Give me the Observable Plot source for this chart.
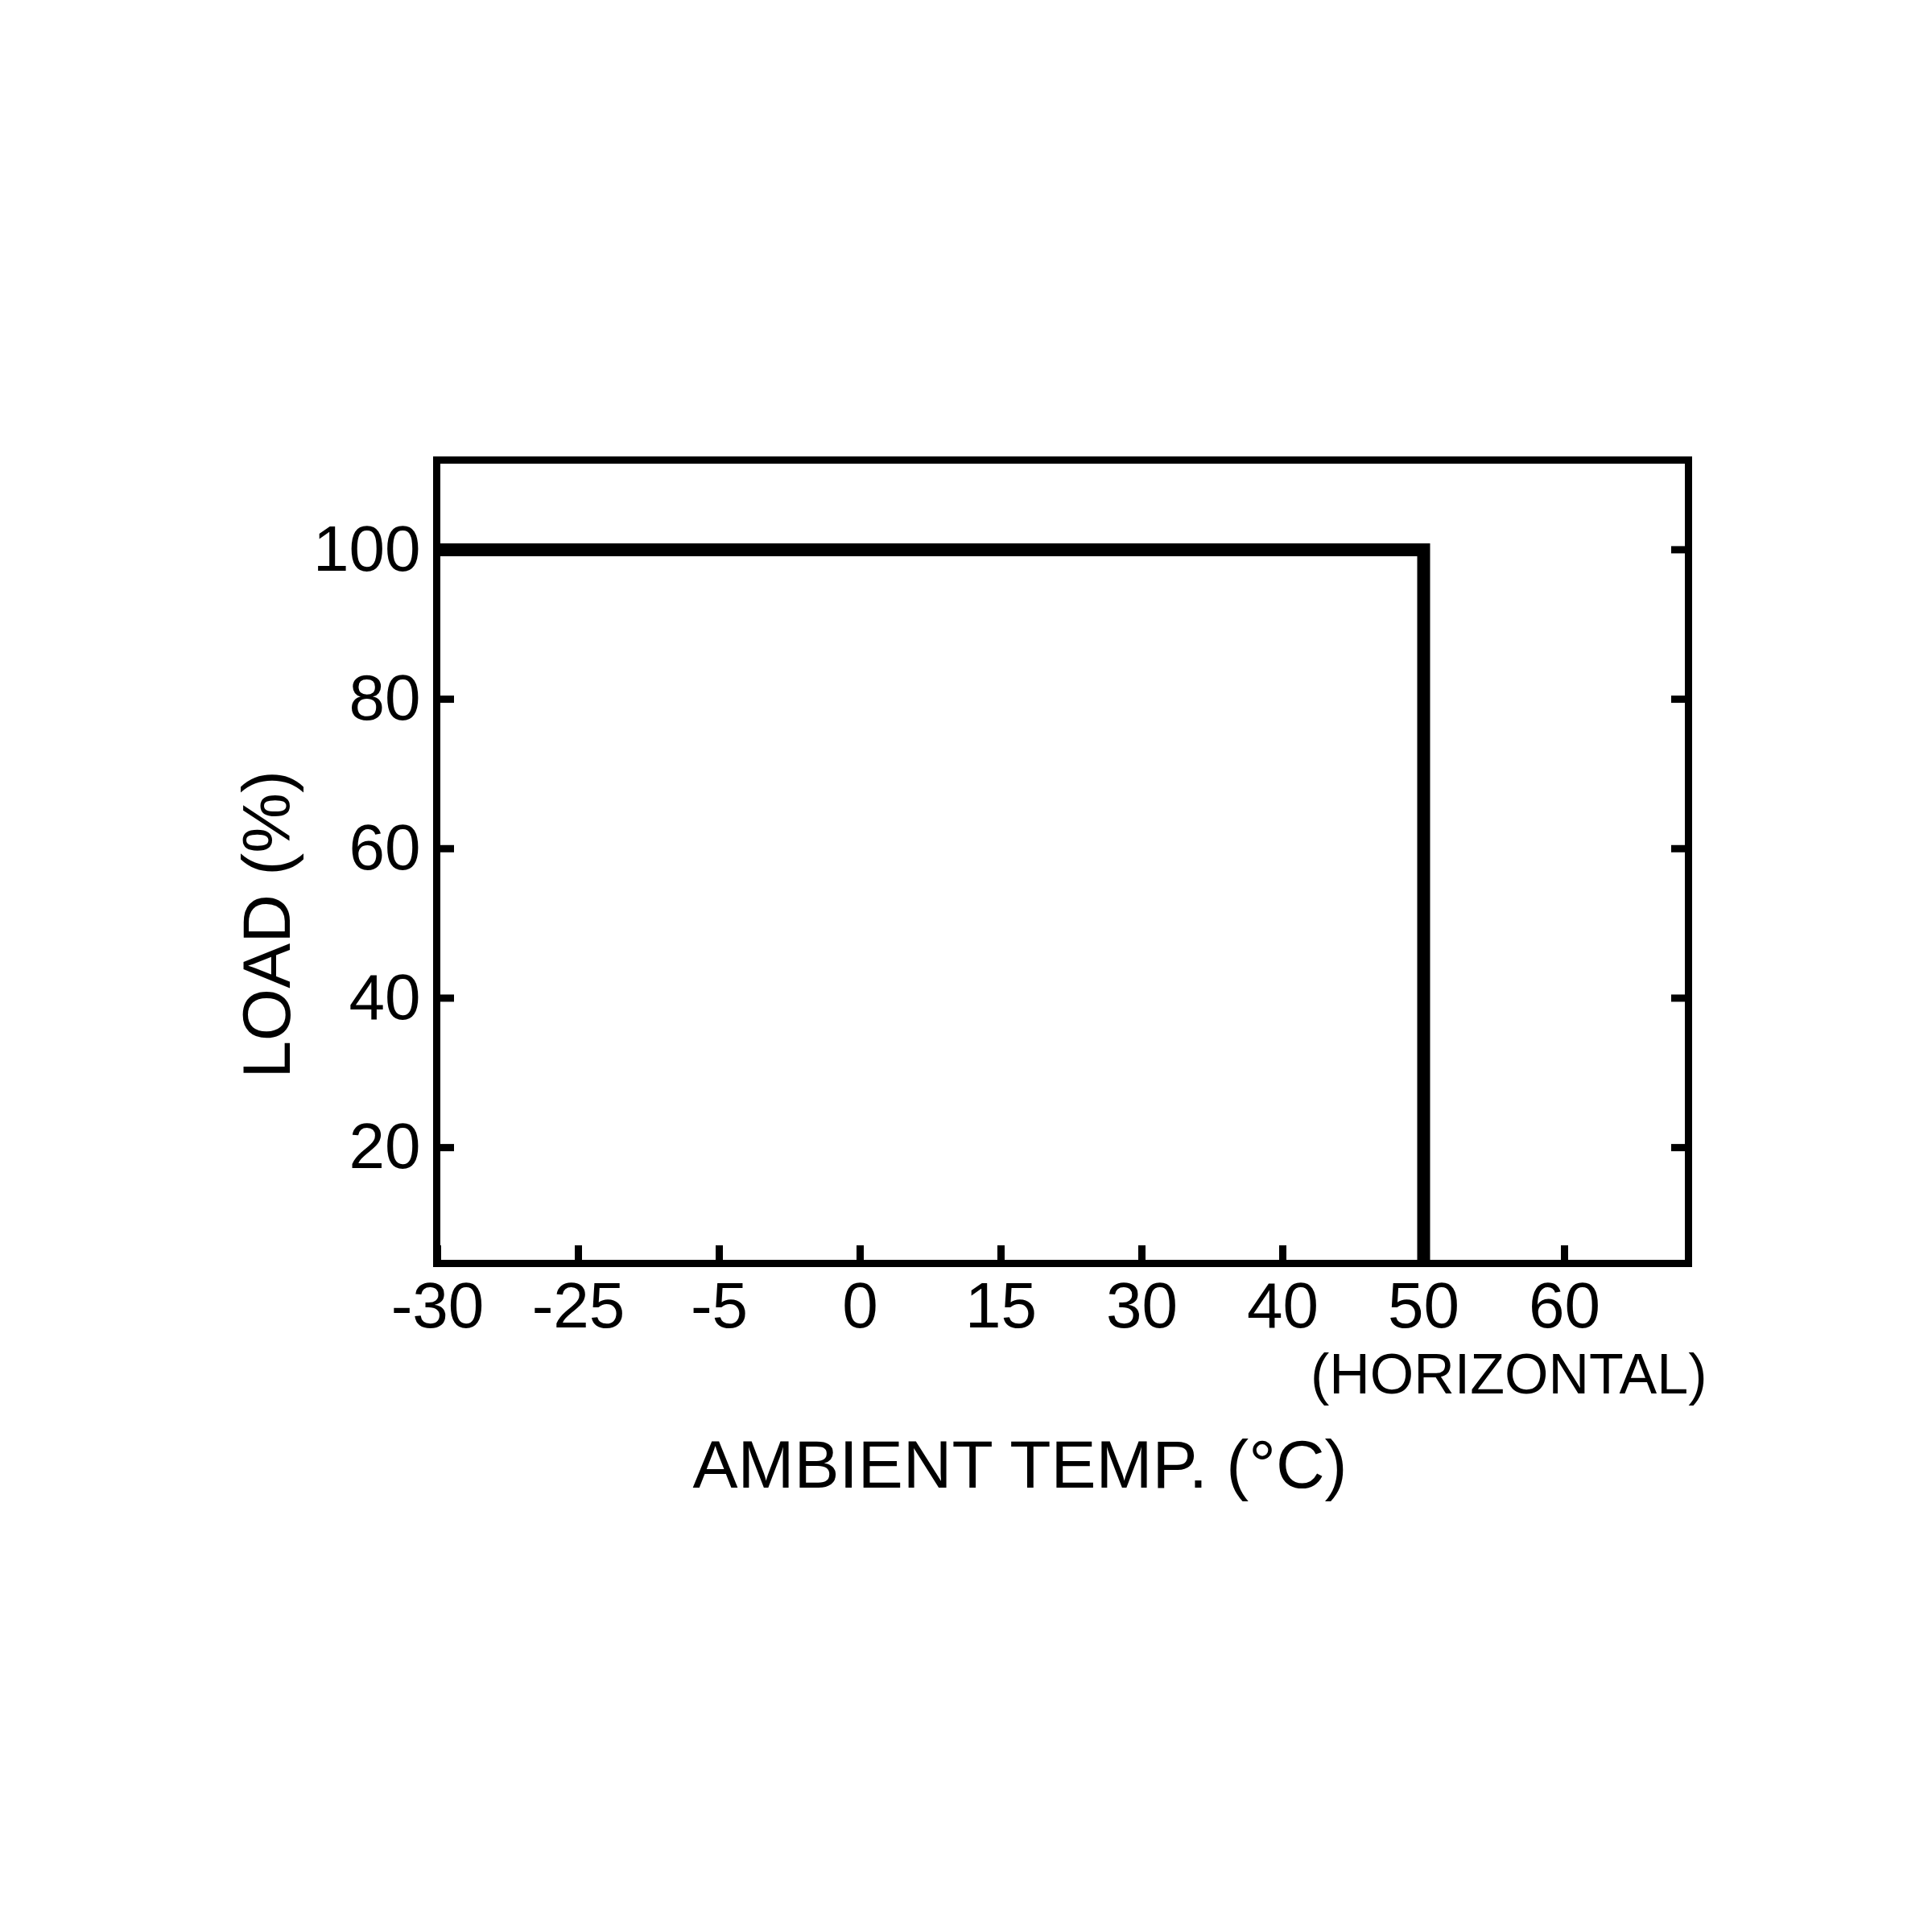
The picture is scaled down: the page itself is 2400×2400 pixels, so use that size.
<!DOCTYPE html>
<html>
<head>
<meta charset="utf-8">
<script src="https://cdn.jsdelivr.net/npm/d3@7"></script>
<script src="https://cdn.jsdelivr.net/npm/@observablehq/plot@0.6"></script>
<style>
  html, body { margin: 0; padding: 0; background: #fff; overflow: hidden; }
</style>
</head>
<body>
<div id="chart"></div>
<script>
// ---- data ----
const xTicks = [-30, -25, -5, 0, 15, 30, 40, 50, 60];   // ambient temp tick labels (°C)
const yTicks = [20, 40, 60, 80, 100];                   // load tick labels (%)
const curveTemp = [-30, 50, 50];                        // derating curve: temperature
const curveLoad = [100, 100, 0];                        // derating curve: load (%)
const xTitle = "AMBIENT TEMP. (°C)";
const xSubTitle = "(HORIZONTAL)";
const yTitle = "LOAD (%)";

const curve = curveTemp.map((t, i) => ({temp: t, load: curveLoad[i]}));
const font = "'Liberation Sans', Arial, Helvetica, sans-serif";

const chart = Plot.plot({
  width: 2400,
  height: 2400,
  marginLeft: 542,
  marginRight: 303,
  marginTop: 571,
  marginBottom: 831,
  style: {fontFamily: font, background: "#fff", color: "#000"},
  x: {type: "point", domain: xTicks, range: [542, 1944], padding: 0},
  y: {domain: [4.5, 112]},
  marks: [
    Plot.line(curve, {x: "temp", y: "load", stroke: "#000", strokeWidth: 16,
      strokeLinejoin: "miter", strokeMiterlimit: 4, strokeLinecap: "butt", clip: true}),
    Plot.frame({stroke: "#000", strokeWidth: 9}),
    // inward ticks
    Plot.axisX(xTicks, {anchor: "bottom", tickSize: 22, dy: -22, strokeWidth: 9,
      tickFormat: () => "", label: null}),
    Plot.axisY(yTicks, {anchor: "left", tickSize: 22, dx: 22, strokeWidth: 9,
      tickFormat: () => "", label: null}),
    Plot.axisY(yTicks, {anchor: "right", tickSize: 22, dx: -22, strokeWidth: 9,
      tickFormat: () => "", label: null}),
    // tick labels
    Plot.axisX(xTicks, {anchor: "bottom", tickSize: 0, tickPadding: 23, fontSize: 80,
      tickFormat: d => String(d), label: null}),
    Plot.axisY(yTicks, {anchor: "left", tickSize: 0, tickPadding: 20, fontSize: 80,
      tickFormat: d => String(d), label: null}),
    // titles
    Plot.text([xTitle], {text: d => d, frameAnchor: "bottom", textAnchor: "middle",
      dx: -53, dy: 278, lineAnchor: "bottom", fontSize: 84, fill: "#000"}),
    Plot.text([xSubTitle], {text: d => d, frameAnchor: "bottom-right", textAnchor: "end",
      dx: 23, dy: 161, lineAnchor: "bottom", fontSize: 70, fill: "#000"}),
    Plot.text([yTitle], {text: d => d, frameAnchor: "left", textAnchor: "middle",
      lineAnchor: "middle", rotate: -90, dx: -209, dy: 78, fontSize: 84, fill: "#000"})
  ]
});
document.getElementById("chart").append(chart);
</script>
</body>
</html>
